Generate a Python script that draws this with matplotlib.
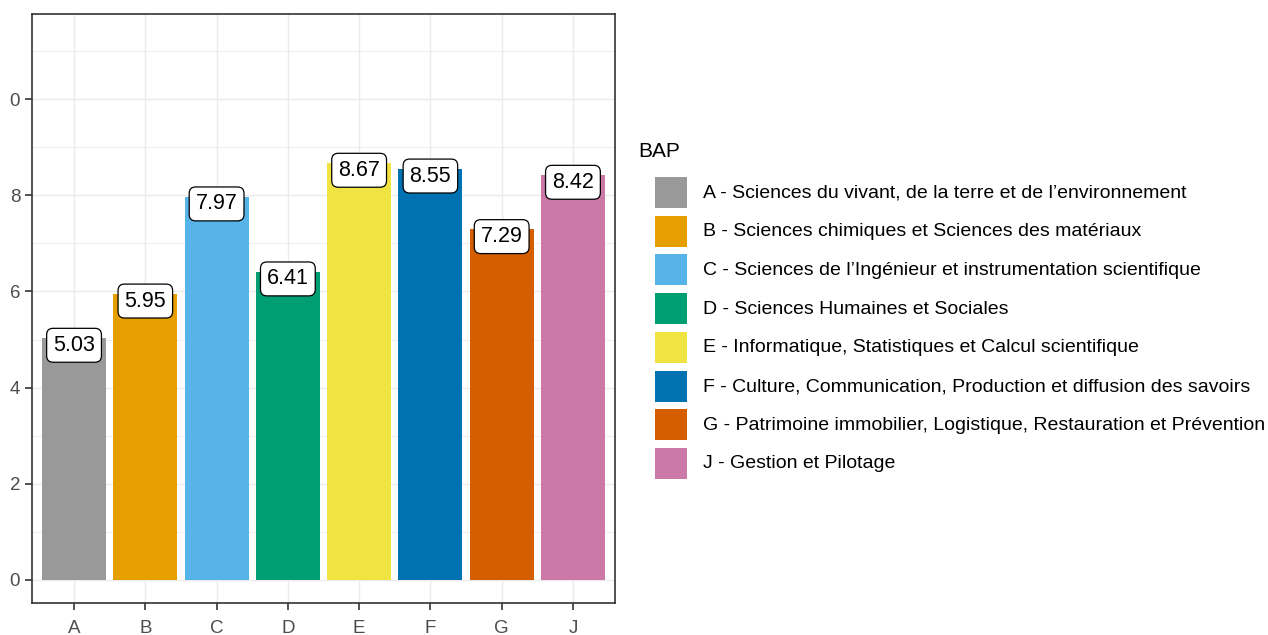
import numpy as np
import matplotlib.pyplot as plt
from matplotlib.patches import Rectangle

plt.rcParams['font.family'] = ['Liberation Sans', 'DejaVu Sans']

# data
categories = ['A', 'B', 'C', 'D', 'E', 'F', 'G', 'J']
values = [5.03, 5.95, 7.97, 6.41, 8.67, 8.55, 7.29, 8.42]
legend_labels = [
    "A - Sciences du vivant, de la terre et de l\u2019environnement",
    "B - Sciences chimiques et Sciences des mat\u00e9riaux",
    "C - Sciences de l\u2019Ing\u00e9nieur et instrumentation scientifique",
    "D - Sciences Humaines et Sociales",
    "E - Informatique, Statistiques et Calcul scientifique",
    "F - Culture, Communication, Production et diffusion des savoirs",
    "G - Patrimoine immobilier, Logistique, Restauration et Pr\u00e9vention",
    "J - Gestion et Pilotage",
]
colors = ['#999999', '#E69F00', '#56B4E9', '#009E73',
          '#F0E442', '#0072B2', '#D55E00', '#CC79A7']
ytick_vals = [0, 2, 4, 6, 8, 10]
ytick_text = ['0', '2', '4', '6', '8', '0']  # top label is cropped in the source

W, H = 1268, 635
fig = plt.figure(figsize=(W / 100, H / 100), dpi=100)
ax = fig.add_axes([32 / W, 1 - 603 / H, 583 / W, 589 / H])

x = np.arange(len(categories))
ax.bar(x, values, width=0.9, color=colors, zorder=2)

for xi, v in zip(x, values):
    ax.text(xi, v - 0.15, f"{v:.2f}", ha='center', va='center', fontsize=15.5,
            color='black', zorder=3,
            bbox=dict(boxstyle='round,pad=0.3,rounding_size=0.3',
                      fc='white', ec='black', lw=0.9))

ax.set_xlim(-0.59, 7.59)
ax.set_ylim(-0.48, 11.77)
ax.set_xticks(x)
ax.set_xticklabels(categories)
ax.set_yticks(ytick_vals)
ax.set_yticklabels(ytick_text)
ax.set_yticks(np.arange(1, 12, 2), minor=True)

ax.grid(True, which='major', color='#EBEBEB', lw=1.0, zorder=0)
ax.grid(True, which='minor', axis='y', color='#EBEBEB', lw=0.6, zorder=0)
ax.set_axisbelow(True)
ax.tick_params(axis='both', which='major', labelsize=13.5, labelcolor='#4D4D4D',
               color='#333333', length=5, width=1.2)
ax.tick_params(axis='x', which='major', pad=7)
ax.tick_params(axis='y', which='minor', length=0)
for s in ax.spines.values():
    s.set_color('#333333')
    s.set_linewidth(1.2)

# legend, drawn by hand to match key size and spacing
fig.text(638 / W, 1 - 151 / H, "BAP", fontsize=15, ha='left', va='center')
for i, (lab, c) in enumerate(zip(legend_labels, colors)):
    top = 177 + i * 38.7
    fig.patches.append(Rectangle((655 / W, 1 - (top + 31) / H), 32 / W, 31 / H,
                                 transform=fig.transFigure, fc=c, ec='none'))
    fig.text(703 / W, 1 - (top + 16) / H, lab, fontsize=14, ha='left', va='center')

fig.savefig('out.png', dpi=100)
